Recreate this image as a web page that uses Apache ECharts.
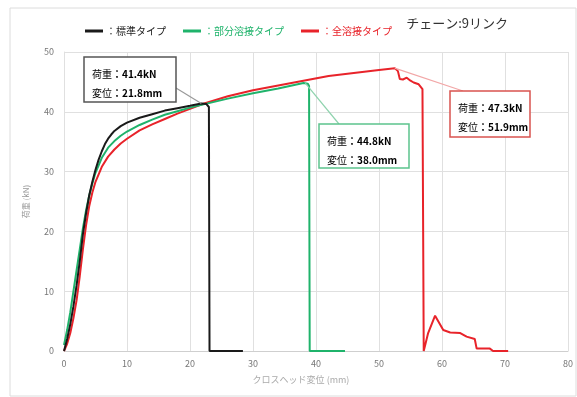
<!DOCTYPE html>
<html>
<head>
<meta charset="utf-8">
<script src="https://cdn.jsdelivr.net/npm/echarts@6/dist/echarts.min.js"></script>
<style>
    html, body { margin: 0; padding: 0; background: #fff; }
    #chart { width: 577px; height: 397px; }
</style>
</head>
<body>
<div id="chart"></div>
<script>
// 標準タイプ
const blackX = [0, 0.5, 1, 1.5, 2, 2.5, 3, 3.5, 4, 4.5, 5, 5.5, 6, 6.5, 7, 7.5, 8, 9, 10, 12, 14, 16, 18, 20, 21.8, 22.6, 23.0, 23.1, 28.4];
const blackY = [0, 2, 4.5, 7.5, 11, 15, 19.5, 23, 26, 28.3, 30.3, 32.0, 33.4, 34.6, 35.5, 36.2, 36.8, 37.6, 38.2, 39.0, 39.6, 40.2, 40.6, 41.0, 41.4, 41.3, 40.8, 0, 0];
// 部分溶接タイプ
const greenX = [0, 0.5, 1, 1.5, 2, 2.5, 3, 3.5, 4, 4.5, 5, 6, 7, 8, 9, 10, 12, 14, 16, 18, 20, 22, 26, 30, 34, 38.0, 38.7, 38.9, 39.0, 44.6];
const greenY = [1, 3.5, 6.5, 10, 13.5, 17, 20.5, 23.5, 26, 28, 29.8, 32.3, 34.0, 35.1, 36.0, 36.7, 37.8, 38.7, 39.5, 40.1, 40.7, 41.2, 42.2, 43.1, 43.9, 44.8, 44.7, 44.3, 0, 0];
// 全溶接タイプ
const redX = [0, 0.5, 1, 1.5, 2, 2.5, 3, 3.5, 4, 4.5, 5, 6, 7, 8, 9, 10, 12, 14, 16, 18, 20, 22, 26, 30, 34, 38, 42, 46, 50, 52.5, 53.0, 53.3, 53.8, 54.4, 55.0, 55.5, 56.3, 56.9, 57.1, 57.8, 58.9, 60.2, 61.3, 62.9, 63.9, 65.2, 65.5, 67.6, 68.1, 70.5];
const redY = [0, 1.2, 3, 5.5, 8.5, 12.5, 17, 21, 24.2, 26.5, 28.3, 30.8, 32.5, 33.7, 34.7, 35.5, 36.9, 37.9, 38.8, 39.7, 40.5, 41.3, 42.6, 43.6, 44.4, 45.2, 46.0, 46.5, 47.0, 47.3, 46.8, 45.5, 45.4, 45.7, 45.2, 44.9, 44.6, 43.8, 0, 3.0, 5.9, 3.5, 3.1, 3.0, 2.4, 2.0, 0.4, 0.4, 0, 0];

const seriesNames = ['標準タイプ', '部分溶接タイプ', '全溶接タイプ'];
const seriesColors = ['#1a1a1a', '#1fb36b', '#e8232a'];

// 注記 (荷重, 変位)
const notes = [
    { load: '41.4kN', disp: '21.8mm', at: [21.8, 41.4] },
    { load: '44.8kN', disp: '38.0mm', at: [38.3, 44.8] },
    { load: '47.3kN', disp: '51.9mm', at: [52.5, 47.3] }
];

const font = '"Noto Sans CJK JP", "Noto Sans", sans-serif';

function zip(xs, ys) {
    return xs.map((x, i) => [x, ys[i]]);
}

let chart = echarts.init(document.getElementById('chart'));
let option = {
    animation: false,
    textStyle: { fontFamily: font },
    title: {
        text: 'チェーン:9リンク',
        right: 64,
        top: 12,
        textStyle: { fontSize: 13, fontWeight: 'normal', color: '#333', fontFamily: font }
    },
    legend: {
        left: 80,
        top: 21,
        icon: 'rect',
        itemWidth: 18,
        itemHeight: 3,
        itemGap: 17,
        formatter: '：{name}',
        data: seriesNames.map((n, i) => ({ name: n, textStyle: { color: seriesColors[i] } })),
        textStyle: { fontSize: 10, fontFamily: font, padding: [0, 0, 0, -2] }
    },
    grid: {
        left: 64,
        right: 9,
        top: 52,
        bottom: 46
    },
    xAxis: {
        type: 'value',
        min: 0,
        max: 80,
        interval: 10,
        name: 'クロスヘッド変位 (mm)',
        nameLocation: 'middle',
        nameGap: 24,
        nameTextStyle: { color: '#aaa', fontSize: 9, padding: [0, 30, 0, 0] },
        axisLine: { lineStyle: { color: '#cfcfcf' } },
        axisTick: { show: false },
        axisLabel: { color: '#777', fontSize: 9, margin: 8 },
        splitLine: { show: true, lineStyle: { color: '#e0e0e0' } }
    },
    yAxis: {
        type: 'value',
        min: 0,
        max: 50,
        interval: 10,
        name: '荷重 (kN)',
        nameLocation: 'middle',
        nameGap: 34,
        nameTextStyle: { color: '#999', fontSize: 8 },
        axisLine: { show: true, lineStyle: { color: '#e0e0e0' } },
        axisTick: { show: false },
        axisLabel: { color: '#777', fontSize: 9, margin: 10 },
        splitLine: { lineStyle: { color: '#e0e0e0' } }
    },
    series: [
        { name: seriesNames[0], data: zip(blackX, blackY) },
        { name: seriesNames[1], data: zip(greenX, greenY) },
        { name: seriesNames[2], data: zip(redX, redY) }
    ].map((s, i) => Object.assign(s, {
        type: 'line',
        showSymbol: false,
        symbol: 'none',
        color: seriesColors[i],
        lineStyle: { width: 2, color: seriesColors[i] },
        z: 3 - i
    }))
};
chart.setOption(option);

// 注記ボックス（位置はレイアウト）
const boxes = [
    { x: 84, y: 57, w: 92, h: 45, stroke: '#555', lead: '#999', from: [176, 88] },
    { x: 319, y: 124, w: 90, h: 44, stroke: '#5cc48d', lead: '#8fd3ae', from: [339, 124] },
    { x: 450, y: 91, w: 80, h: 46, stroke: '#d9534f', lead: '#f2a7a7', from: [463, 91] }
];

let graphics = [{
    type: 'rect',
    shape: { x: 10, y: 8, width: 566, height: 388 },
    style: { fill: 'none', stroke: '#dcdcdc', lineWidth: 1 },
    silent: true,
    z: 0
}];

boxes.forEach((b, i) => {
    let p = chart.convertToPixel({ gridIndex: 0 }, notes[i].at);
    graphics.push({
        type: 'line',
        shape: { x1: b.from[0], y1: b.from[1], x2: p[0], y2: p[1] },
        style: { stroke: b.lead, lineWidth: 1.2 },
        z: 10
    });
    graphics.push({
        type: 'rect',
        shape: { x: b.x, y: b.y, width: b.w, height: b.h },
        style: { fill: '#fff', stroke: b.stroke, lineWidth: 1.5 },
        z: 11
    });
    graphics.push({
        type: 'text',
        x: b.x + 8,
        y: b.y + 8,
        style: {
            text: '{k|荷重}{v|：' + notes[i].load + '}\n{k|変位}{v|：' + notes[i].disp + '}',
            rich: {
                k: { fontSize: 10, color: '#666', fontFamily: font, lineHeight: 19 },
                v: { fontSize: 10, color: '#333', fontWeight: 'bold', fontFamily: font, lineHeight: 19 }
            }
        },
        z: 12
    });
});

chart.setOption({ graphic: graphics });
</script>
</body>
</html>
